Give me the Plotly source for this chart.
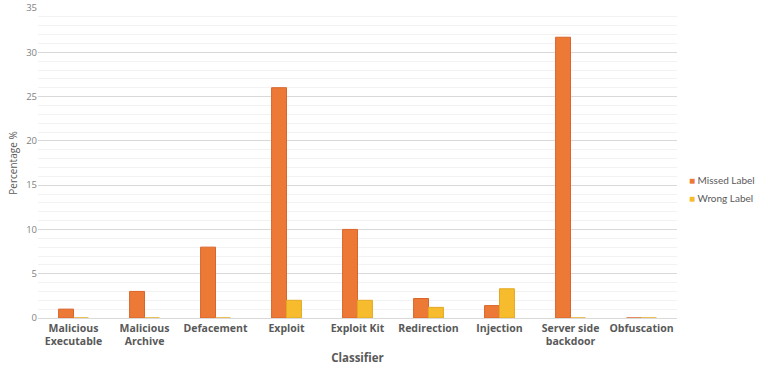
import plotly.graph_objects as go

categories = ["Malicious<br>Executable", "Malicious<br>Archive", "Defacement", "Exploit",
              "Exploit Kit", "Redirection", "Injection", "Server side<br>backdoor", "Obfuscation"]
missed_label = [1, 3, 8, 26, 10, 2.2, 1.4, 31.7, 0]
wrong_label = [0, 0, 0, 2, 2, 1.2, 3.3, 0, 0]
y_ticks = [0, 5, 10, 15, 20, 25, 30, 35]
series_names = ["Missed Label", "Wrong Label"]
series_colors = ["#EC7A36", "#F6BC2E"]
series_lines = ["#D9652A", "#E3A820"]

font_family = "Open Sans, Lato, sans-serif"
gray = "#595959"

fig = go.Figure()
for name, vals, col, lc in zip(series_names, [missed_label, wrong_label], series_colors, series_lines):
    fig.add_trace(go.Bar(
        x=categories, y=vals, name=name,
        marker=dict(color=col, line=dict(color=lc, width=1)),
    ))

# legend drawn as text annotations (keeps it in the narrow right margin)
for i, (name, col) in enumerate(zip(series_names, series_colors)):
    fig.add_annotation(
        xref="paper", yref="paper", x=1.016, y=0.445 - i * 0.058,
        xanchor="left", yanchor="middle", showarrow=False,
        text=f"<span style='color:{col}'>■</span> {name}",
        font=dict(size=10, color=gray, family="Lato, Open Sans, sans-serif"),
    )

fig.update_layout(
    width=758, height=373,
    margin=dict(l=38, r=81, t=8, b=55, autoexpand=False),
    paper_bgcolor="white", plot_bgcolor="white",
    barmode="group", bargap=0.58, bargroupgap=0,
    font=dict(family=font_family, size=10, color=gray),
    showlegend=False,
    xaxis=dict(
        title=dict(text="<b>Classifier</b>", font=dict(size=11.5, color=gray), standoff=6),
        tickfont=dict(size=10.5, color=gray, family=font_family),
        showline=True, linecolor="#d9d9d9", ticks="", automargin=False,
        tickprefix="<b>", ticksuffix="</b>",
    ),
    yaxis=dict(
        title=dict(text="Percentage %", font=dict(size=10, color=gray), standoff=6),
        range=[0, 35], tickvals=y_ticks, ticktext=[str(v) for v in y_ticks],
        tickfont=dict(size=9.5, color="#7f7f7f"), automargin=False,
        showgrid=True, gridcolor="#d9d9d9", gridwidth=1,
        minor=dict(dtick=1, showgrid=True, gridcolor="#f2f2f2", gridwidth=1),
        zeroline=False, ticks="",
    ),
)

fig.write_html("out.html")
